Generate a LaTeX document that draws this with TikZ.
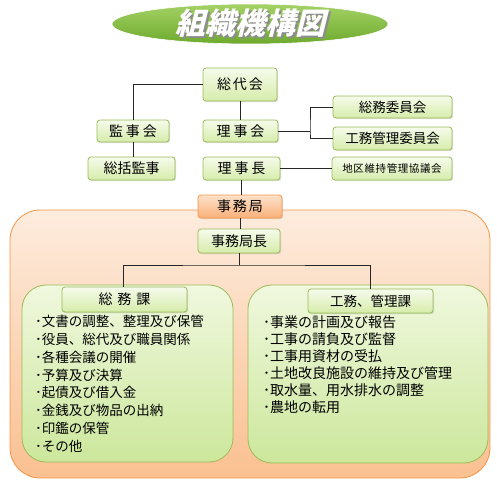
\documentclass[tikz,border=0pt]{standalone}
\usepackage{fontspec}
\setmainfont{Noto Sans CJK JP}
\newfontfamily\titlefont[FakeSlant=0.25]{Noto Sans CJK JP}
\usetikzlibrary{shadows}
\definecolor{gtop}{RGB}{246,251,236}
\definecolor{gbot}{RGB}{214,236,170}
\definecolor{gborder}{RGB}{155,187,89}
\definecolor{otop}{RGB}{253,226,204}
\definecolor{obot}{RGB}{249,176,120}
\definecolor{oborder}{RGB}{247,150,70}
\definecolor{ptop}{RGB}{253,236,222}
\definecolor{pbot}{RGB}{250,192,145}
\definecolor{bigtop}{RGB}{240,248,222}
\definecolor{bigbot}{RGB}{204,231,156}
\definecolor{titleg}{RGB}{141,198,63}
\definecolor{titled}{RGB}{110,170,45}
\tikzset{
  gbox/.style={draw=gborder, line width=0.8pt, rounded corners=3pt, top color=gtop, bottom color=gbot,
    drop shadow={shadow xshift=1.2pt, shadow yshift=-1.2pt, opacity=0.25}, inner sep=0pt, font=\fontsize{14}{16}\selectfont},
  obox/.style={gbox, draw=oborder, top color=otop, bottom color=obot},
  line/.style={draw=black!85, line width=0.8pt},
  bigbox/.style={draw=gborder, line width=0.8pt, rounded corners=24pt, top color=bigtop, bottom color=bigbot},
  listtext/.style={anchor=north west, inner sep=0pt, align=left}
}
\begin{document}
\begin{tikzpicture}[x=1pt,y=-1pt]
\useasboundingbox (0,0) rectangle (497,484);
% title
\shade[top color=titleg!80!white, bottom color=titled, draw=white, line width=0.6pt] (250,24) ellipse [x radius=138, y radius=20];
\node (title) [text=white, font=\titlefont\bfseries\fontsize{30}{32}\selectfont] at (250,24)
  {\makebox[0pt][l]{\hspace{2pt}\raisebox{-2pt}{\color{black!45}組織機構図}}組織機構図};
% peach background
\shade[draw=oborder, line width=0.8pt, rounded corners=30pt, top color=ptop, bottom color=pbot] (10,210) rectangle (490,478);
\shade[bigbox] (22,285) rectangle (233,462);
\shade[bigbox] (248,285) rectangle (488,463);
% nodes
\node (sodai) [gbox, minimum width=74pt, minimum height=33pt] at (240,84.5) {総\hspace{2pt}代\hspace{2pt}会};
\node (kanjikai) [gbox, minimum width=72pt, minimum height=22pt] at (133,131) {監\hspace{3pt}事\hspace{3pt}会};
\node (rijikai) [gbox, minimum width=75pt, minimum height=22pt] at (240.5,131) {理\hspace{3pt}事\hspace{3pt}会};
\node (soukatsu) [gbox, minimum width=87pt, minimum height=23pt] at (131.5,168.5) {総括監事};
\node (rijicho) [gbox, minimum width=77pt, minimum height=23pt] at (241.5,168.5) {理\hspace{3pt}事\hspace{3pt}長};
\node (soumuiin) [gbox, minimum width=119pt, minimum height=22pt, font=\fontsize{13.5}{16}\selectfont] at (392.5,107) {総務委員会};
\node (koumuiin) [gbox, minimum width=119pt, minimum height=23pt, font=\fontsize{13.5}{16}\selectfont] at (392.5,138.5) {工務管理委員会};
\node (chiku) [gbox, minimum width=120pt, minimum height=23pt, font=\fontsize{10.5}{12}\selectfont] at (392,168.5) {地\hspace{0.6pt}区\hspace{0.6pt}維\hspace{0.6pt}持\hspace{0.6pt}管\hspace{0.6pt}理\hspace{0.6pt}協\hspace{0.6pt}議\hspace{0.6pt}会};
\node (jimukyoku) [obox, minimum width=84pt, minimum height=23pt] at (240,206.5) {事\hspace{2pt}務\hspace{2pt}局};
\node (jimucho) [gbox, minimum width=82pt, minimum height=24pt] at (239,241) {事務局長};
\node (soumuka) [gbox, minimum width=125pt, minimum height=25pt] at (124.5,299.5) {総\hspace{5pt}務\hspace{5pt}課};
\node (koumuka) [gbox, minimum width=125pt, minimum height=24pt, font=\fontsize{13.5}{16}\selectfont] at (370.5,301) {工務、管理課};
\coordinate (j) at (310,131);
\coordinate (bar) at (241,265);
% connectors
\draw[line] (sodai.west) -| (kanjikai.north);
\draw[line] (kanjikai.south) -- (kanjikai.south |- soukatsu.north);
\draw[line] (sodai.south) -- (sodai.south |- rijikai.north);
\draw[line] (rijikai.east) -- (j);
\draw[line] (soumuiin.west) -| (j) |- (koumuiin.west);
\draw[line] (rijicho.east) -- (chiku.west);
\draw[line] (rijicho.south) -- (rijicho.south |- jimukyoku.north);
\draw[line] (jimukyoku.south) -- (jimukyoku.south |- jimucho.north);
\draw[line] (jimucho.south) -- (jimucho.south |- bar);
\draw[line] (soumuka.north -| 123,0) |- (bar) -| (koumuka.north);
% lists
\node (list1) [listtext, font=\fontsize{13.5}{17.8}\selectfont] at (35,315) {･文書の調整、整理及び保管\\･役員、総代及び職員関係\\･各種会議の開催\\･予算及び決算\\･起債及び借入金\\･金銭及び物品の出納\\･印鑑の保管\\･その他};
\node (list2) [listtext, font=\fontsize{14}{17}\selectfont] at (263,316) {･事業の計画及び報告\\･工事の請負及び監督\\･工事用資材の受払\\･土地改良施設の維持及び管理\\･取水量、用水排水の調整\\･農地の転用};
\end{tikzpicture}
\end{document}
